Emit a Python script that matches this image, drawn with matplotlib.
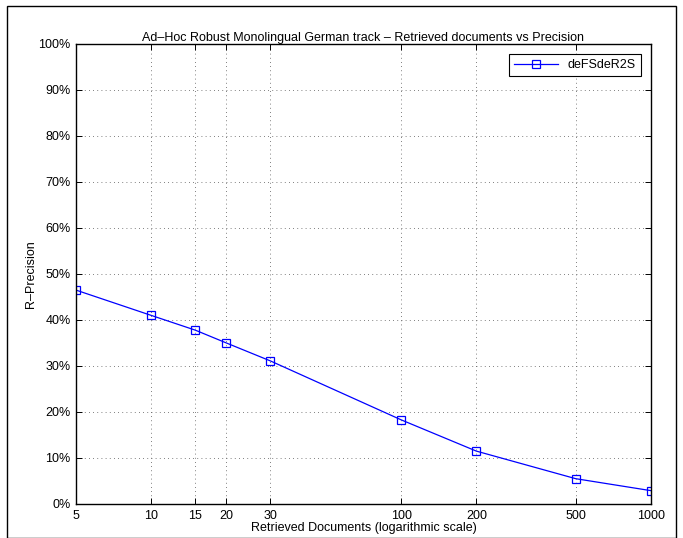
import matplotlib
matplotlib.use("Agg")

import matplotlib.pyplot as plt
from matplotlib.patches import Rectangle
from matplotlib.ticker import FixedLocator, FixedFormatter, NullLocator

plt.rcParams['font.family'] = ['Liberation Sans', 'DejaVu Sans']

# data
docs = [5, 10, 15, 20, 30, 100, 200, 500, 1000]
precision = [46.5, 41.0, 37.8, 35.0, 31.1, 18.3, 11.5, 5.5, 2.9]
x_ticks = [5, 10, 15, 20, 30, 100, 200, 500, 1000]
y_ticks = [0, 10, 20, 30, 40, 50, 60, 70, 80, 90, 100]
y_labels = ["%d%%" % v for v in y_ticks]
run_name = "deFSdeR2S"

fig = plt.figure(figsize=(6.83, 5.38), dpi=100)
fig.patches.append(Rectangle((7 / 683, 0), 669 / 683, 532 / 538, transform=fig.transFigure,
                             fill=False, edgecolor="black", linewidth=1.0))

ax = fig.add_axes([76 / 683, 34 / 538, 575 / 683, 460 / 538])
ax.plot(docs, precision, color="blue", linewidth=0.9, marker="s", markersize=5.5,
        markerfacecolor="none", markeredgecolor="blue", markeredgewidth=0.9, label=run_name)

ax.set_xscale("log")
ax.set_xlim(5, 1000)
ax.set_ylim(0, 100)
ax.xaxis.set_major_locator(FixedLocator(x_ticks))
ax.xaxis.set_major_formatter(FixedFormatter([str(v) for v in x_ticks]))
ax.xaxis.set_minor_locator(NullLocator())
ax.yaxis.set_major_locator(FixedLocator(y_ticks))
ax.yaxis.set_major_formatter(FixedFormatter(y_labels))

ax.grid(True, linestyle=(0, (1, 4)), color="#555555", linewidth=0.6)
ax.tick_params(direction="in", top=True, right=True, labelsize=9, length=4, width=0.7, pad=4)
for s in ax.spines.values():
    s.set_linewidth(1.0)

ax.set_title("Ad\u2013Hoc Robust Monolingual German track \u2013 Retrieved documents vs Precision",
             fontsize=9, pad=2)
ax.set_xlabel("Retrieved Documents (logarithmic scale)", fontsize=9, labelpad=0)
ax.set_ylabel("R\u2013Precision", fontsize=9, labelpad=1)

leg = ax.legend(loc="upper right", fontsize=9, fancybox=False, edgecolor="black",
                framealpha=1, handlelength=3.5, borderaxespad=0.8)
leg.get_frame().set_linewidth(0.8)

fig.savefig("out.png", dpi=100)
